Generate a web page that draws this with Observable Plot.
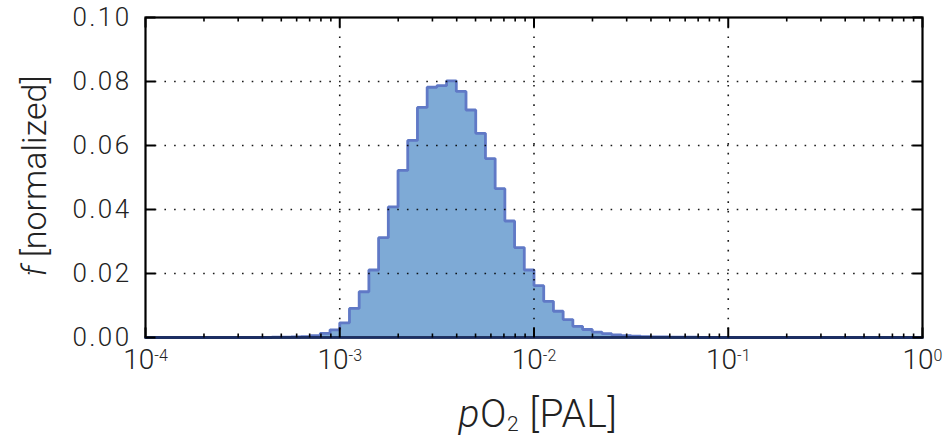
<!DOCTYPE html>
<html>
<head>
<meta charset="utf-8">
<script src="https://cdn.jsdelivr.net/npm/d3@7"></script>
<script src="https://cdn.jsdelivr.net/npm/@observablehq/plot@0.6"></script>
<style>
  html, body { margin: 0; padding: 0; background: #fff; }
  #chart svg { display: block; }
  #chart svg text { font-weight: 300; }
</style>
</head>
<body>
<div id="chart"></div>
<script>
// ---- data ----
// histogram bins: log10 of the first bin's left edge, bin width in log10 units
const binLog10Start = -3.35;
const binLog10Width = 0.05;
// normalized frequency of each bin
const binValues = [
  0.0001, 0.0001, 0.0002, 0.0003, 0.0006, 0.0013, 0.0024,
  0.0046, 0.0091, 0.0143, 0.0211, 0.0312, 0.0408, 0.0522, 0.0616,
  0.0719, 0.0782, 0.0787, 0.0802, 0.0769, 0.0711, 0.0638, 0.0559,
  0.0465, 0.0364, 0.0281, 0.0211, 0.0162, 0.0113, 0.0082, 0.0056,
  0.0035, 0.0025, 0.0017, 0.0012, 0.0008, 0.0006, 0.0004, 0.0003,
  0.0002, 0.0002, 0.0001, 0.0001, 0.0001
];
const xDomain = [1e-4, 1];
const yDomain = [0, 0.1];
const xMajorTicks = [1e-4, 1e-3, 1e-2, 1e-1, 1];
const xMinorTicks = [1e-4, 1e-3, 1e-2, 1e-1].flatMap(d => [2,3,4,5,6,7,8,9].map(m => m * d));
const yMajorTicks = [0, 0.02, 0.04, 0.06, 0.08, 0.10];
const xGridTicks = [1e-3, 1e-2, 1e-1];
const yGridTicks = [0.02, 0.04, 0.06, 0.08];

// ---- table built from the arrays ----
const edges = binValues.map((v, i) => ({
  x: Math.pow(10, binLog10Start + i * binLog10Width),
  y: v
}));
const lastEdge = Math.pow(10, binLog10Start + binValues.length * binLog10Width);
const outline = [
  {x: xDomain[0], y: 0},
  ...edges,
  {x: lastEdge, y: 0},
  {x: xDomain[1], y: 0}
];

const tickShape = { draw(ctx, l) { ctx.moveTo(0, 0); ctx.lineTo(0, -l); } };
const FONT = "Roboto, 'Liberation Sans', sans-serif";
const TXT = "#222";

const chart = Plot.plot({
  width: 948,
  height: 438,
  marginLeft: 145,
  marginRight: 26,
  marginTop: 17,
  marginBottom: 101,
  style: { fontFamily: FONT, background: "white", color: TXT },
  x: { type: "log", domain: xDomain, label: null },
  y: { domain: yDomain, label: null },
  marks: [
    Plot.areaY(outline, { x: "x", y: "y", curve: "step-after", fill: "#7eaad6" }),
    Plot.line(outline, { x: "x", y: "y", curve: "step-after", stroke: "#6079c6", strokeWidth: 2.8, strokeLinejoin: "miter" }),
    Plot.gridX(xGridTicks, { stroke: "#000", strokeOpacity: 0.9, strokeWidth: 1.6, strokeDasharray: "1.6,8.1" }),
    Plot.gridY(yGridTicks, { stroke: "#000", strokeOpacity: 0.9, strokeWidth: 1.6, strokeDasharray: "1.6,8.1" }),
    Plot.frame({ stroke: "#000", strokeWidth: 2.2 }),
    Plot.ruleY([0], { stroke: "#1b2f66", strokeWidth: 2.6 }),
    // bottom & top x ticks (inward)
    Plot.vector(xMajorTicks, { x: d => d, y: yDomain[0], length: 10, rotate: 0, anchor: "start", shape: tickShape, stroke: "#000", strokeWidth: 2, strokeLinecap: "butt" }),
    Plot.vector(xMajorTicks, { x: d => d, y: yDomain[1], length: 10, rotate: 180, anchor: "start", shape: tickShape, stroke: "#000", strokeWidth: 2, strokeLinecap: "butt" }),
    Plot.vector(xMinorTicks, { x: d => d, y: yDomain[0], length: 4, rotate: 0, anchor: "start", shape: tickShape, stroke: "#000", strokeWidth: 1.6, strokeLinecap: "butt" }),
    Plot.vector(xMinorTicks, { x: d => d, y: yDomain[1], length: 4, rotate: 180, anchor: "start", shape: tickShape, stroke: "#000", strokeWidth: 1.6, strokeLinecap: "butt" }),
    // left & right y ticks (inward)
    Plot.vector(yMajorTicks, { x: xDomain[0], y: d => d, length: 10, rotate: 90, anchor: "start", shape: tickShape, stroke: "#000", strokeWidth: 2, strokeLinecap: "butt" }),
    Plot.vector(yMajorTicks, { x: xDomain[1], y: d => d, length: 10, rotate: -90, anchor: "start", shape: tickShape, stroke: "#000", strokeWidth: 2, strokeLinecap: "butt" }),
    Plot.axisX({ ticks: xMajorTicks, tickSize: 0, tickPadding: 12, fontSize: 28, fill: TXT,
      tickFormat: d => "10^" + Math.round(Math.log10(d)) }),
    Plot.axisY({ ticks: yMajorTicks, tickSize: 0, tickPadding: 14, fontSize: 26, fill: TXT,
      tickFormat: d3.format(".2f") })
  ]
});

document.getElementById("chart").appendChild(chart);

const svg = d3.select(chart);
svg.selectAll("g[aria-label='y-axis tick label'] text").attr("letter-spacing", "2.4px");

// superscript exponents on the x tick labels
svg.selectAll("g[aria-label='x-axis tick label'] text").each(function () {
  const t = d3.select(this);
  const s = t.text();
  const [base, exp] = s.split("^");
  t.text(null);
  t.append("tspan").text(base);
  t.append("tspan").attr("dy", "-0.52em").attr("font-size", "16px").text(exp);
});

// axis titles
const yt = svg.append("text")
  .attr("transform", "translate(46,176) rotate(-90)")
  .attr("text-anchor", "middle")
  .attr("font-family", FONT)
  .attr("font-size", 34)
  .attr("fill", TXT);
yt.append("tspan").attr("font-style", "italic").text("f");
yt.append("tspan").text(" [normalized]");

const xt = svg.append("text")
  .attr("x", 538).attr("y", 427)
  .attr("text-anchor", "middle")
  .attr("font-family", FONT)
  .attr("font-size", 39)
  .attr("letter-spacing", "0.6px")
  .attr("fill", TXT);
xt.append("tspan").attr("font-style", "italic").text("p");
xt.append("tspan").text("O");
xt.append("tspan").attr("font-size", 21).attr("dy", 4).text("2");
xt.append("tspan").attr("dy", -4).text(" [PAL]");
</script>
</body>
</html>
